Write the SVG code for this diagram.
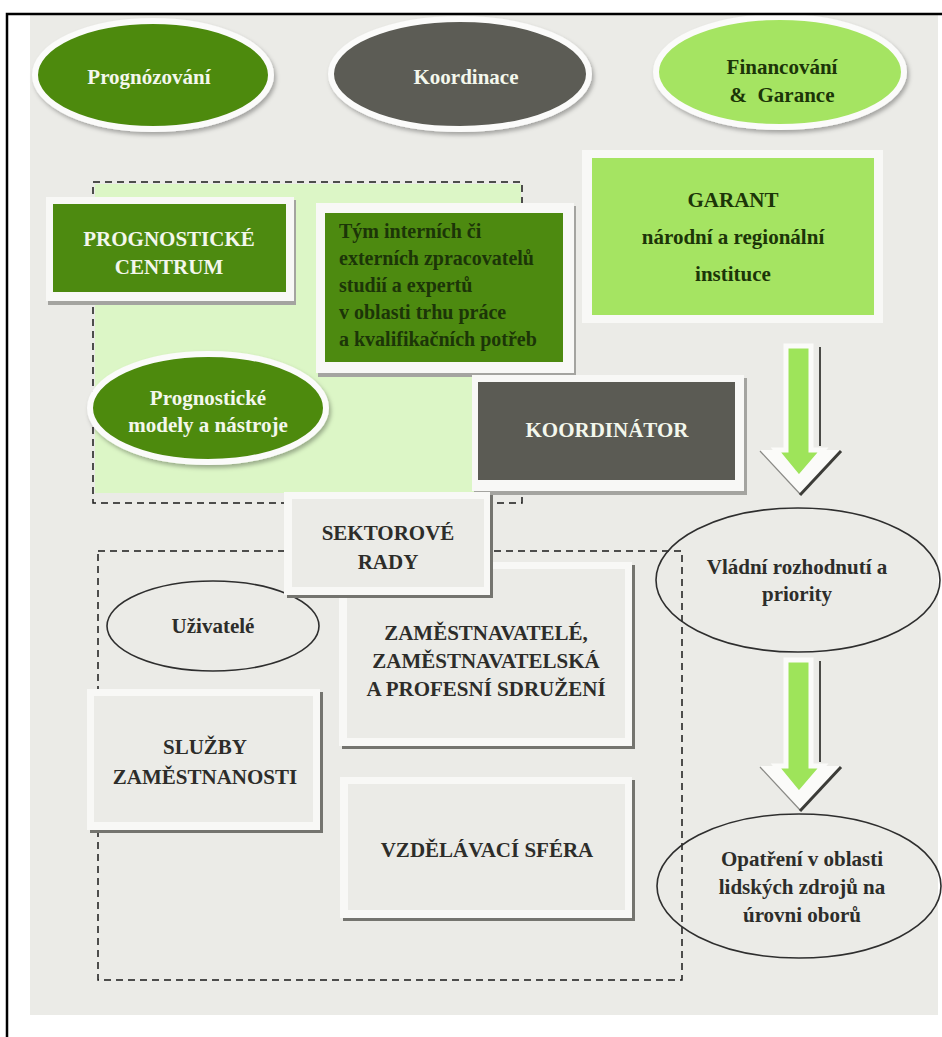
<svg xmlns="http://www.w3.org/2000/svg" width="942" height="1037" viewBox="0 0 942 1037">
<defs>
<style>
text { font-family: "Liberation Serif", "Times New Roman", serif; font-weight: bold; text-anchor: middle; font-size: 21px; }
.w { fill: #f3f7ec; }
.dk { fill: #2d2d2a; }
.dg { fill: #1c3508; }
.st { text-anchor: start; font-size: 20px; }
.outer { fill: #f8f8f6; }
.shadow { fill: #a4a4a0; }
.dshadow { fill: #74746f; }
.green { fill: #4d8a10; }
.gray { fill: #5b5b54; }
.light { fill: #a5e462; }
.boxg { fill: #ebebe7; }
.dash { fill: none; stroke: #1a1a1a; stroke-width: 1.5; stroke-dasharray: 7 5; }
.oval { fill: none; stroke: #2e2e2e; stroke-width: 1.6; }
.glow { stroke: #fbfbfa; stroke-width: 6; }
.arrow { fill: #9ee45a; stroke: #fbfbf9; stroke-width: 5; stroke-linejoin: miter; }
.vhead { fill: #fbfbf9; }
</style>
<filter id="sh" x="-10%" y="-10%" width="125%" height="135%">
<feDropShadow dx="2" dy="3" stdDeviation="2" flood-color="#000" flood-opacity="0.3"/>
</filter>
</defs>

<rect x="0" y="0" width="942" height="1037" fill="#ffffff"/>
<rect x="30" y="15" width="908" height="1000" fill="#ebebe7"/>

<g id="group-prognosis">
<rect x="95" y="184" width="426" height="309" fill="#dcf6c6"/>
<rect class="dash" x="93" y="182" width="429" height="321"/>
</g>
<g id="group-users">
<rect class="dash" x="98" y="551" width="584" height="429"/>
</g>

<g id="node-prognozovani">
<ellipse class="green glow" cx="153" cy="75" rx="118" ry="54" filter="url(#sh)"/>
<text class="w" x="149" y="84" font-size="22">Prognózování</text>
</g>
<g id="node-koordinace">
<ellipse class="gray glow" cx="460" cy="74" rx="129" ry="55" filter="url(#sh)"/>
<text class="w" x="466" y="84" font-size="22">Koordinace</text>
</g>
<g id="node-financovani">
<ellipse class="light glow" cx="780" cy="72" rx="124" ry="55" filter="url(#sh)"/>
<text class="dg" x="782" y="74" font-size="22">Financování</text>
<text class="dg" x="782" y="102" font-size="22" xml:space="preserve">&amp;  Garance</text>
</g>

<g id="node-prognosticke-centrum">
<rect class="shadow" x="48" y="200" width="248" height="105"/>
<rect class="outer" x="46" y="197" width="248" height="104"/>
<rect class="green" x="53" y="204" width="233" height="88"/>
<text class="w" x="169" y="246">PROGNOSTICKÉ</text>
<text class="w" x="169" y="274">CENTRUM</text>
</g>

<g id="node-tym">
<rect class="shadow" x="318" y="206" width="258" height="171"/>
<rect class="outer" x="316" y="203" width="258" height="170"/>
<rect class="green" x="325" y="213" width="238" height="149"/>
<text class="dg st" x="339" y="238">Tým interních či</text>
<text class="dg st" x="339" y="265">externích zpracovatelů</text>
<text class="dg st" x="339" y="292">studií a expertů</text>
<text class="dg st" x="339" y="319">v oblasti trhu práce</text>
<text class="dg st" x="339" y="346">a kvalifikačních potřeb</text>
</g>

<g id="node-modely">
<ellipse class="green glow" cx="208" cy="408" rx="118" ry="54" filter="url(#sh)"/>
<text class="w" x="208" y="405" font-size="20">Prognostické</text>
<text class="w" x="208" y="432" font-size="20">modely a nástroje</text>
</g>

<g id="node-garant">
<rect class="outer" x="582" y="150" width="301" height="173"/>
<rect class="light" x="592" y="158" width="282" height="157"/>
<text class="dg" x="733" y="207" font-size="26">GARANT</text>
<text class="dg" x="733" y="244" font-size="26">národní a regionální</text>
<text class="dg" x="733" y="281" font-size="26">instituce</text>
</g>

<g id="node-koordinator">
<rect class="shadow" x="474" y="378" width="273" height="117"/>
<rect class="outer" x="472" y="375" width="272" height="116"/>
<rect class="gray" x="478" y="382" width="257" height="98"/>
<text class="w" x="607" y="437">KOORDINÁTOR</text>
</g>

<g id="node-uzivatele">
<ellipse class="oval" cx="213" cy="626" rx="106" ry="45"/>
<text class="dk" x="213" y="633">Uživatelé</text>
</g>

<g id="node-zamestnavatele">
<rect class="dshadow" x="342" y="565" width="293" height="184"/>
<rect class="outer" x="339" y="562" width="293" height="184"/>
<rect class="boxg" x="347" y="569" width="278" height="169"/>
<text class="dk" x="486" y="640">ZAMĚSTNAVATELÉ,</text>
<text class="dk" x="486" y="668">ZAMĚSTNAVATELSKÁ</text>
<text class="dk" x="486" y="696">A PROFESNÍ SDRUŽENÍ</text>
</g>

<g id="node-sektorove-rady">
<rect class="dshadow" x="287" y="495" width="206" height="103"/>
<rect class="outer" x="284" y="492" width="206" height="103"/>
<rect class="boxg" x="292" y="499" width="192" height="88"/>
<text class="dk" x="388" y="540">SEKTOROVÉ</text>
<text class="dk" x="388" y="569">RADY</text>
</g>

<g id="node-sluzby">
<rect class="dshadow" x="90" y="692" width="233" height="141"/>
<rect class="outer" x="87" y="689" width="233" height="141"/>
<rect class="boxg" x="94" y="696" width="219" height="126"/>
<text class="dk" x="205" y="754">SLUŽBY</text>
<text class="dk" x="205" y="784">ZAMĚSTNANOSTI</text>
</g>

<g id="node-vzdelavaci">
<rect class="dshadow" x="343" y="780" width="292" height="141"/>
<rect class="outer" x="340" y="777" width="292" height="141"/>
<rect class="boxg" x="348" y="784" width="277" height="126"/>
<text class="dk" x="487" y="857">VZDĚLÁVACÍ SFÉRA</text>
</g>

<g id="node-vladni">
<ellipse class="oval" cx="798" cy="580" rx="142" ry="72"/>
<text class="dk" x="797" y="574">Vládní rozhodnutí a</text>
<text class="dk" x="797" y="601">priority</text>
</g>

<g id="node-opatreni">
<ellipse class="oval" cx="799" cy="886" rx="142" ry="72"/>
<text class="dk" x="802" y="866">Opatření v oblasti</text>
<text class="dk" x="802" y="894">lidských zdrojů na</text>
<text class="dk" x="802" y="922">úrovni oborů</text>
</g>

<g id="connectors">
<g id="arrow-garant-vladni">
<polygon class="vhead" points="760,450 840,450 800,494"/>
<line x1="760" y1="451" x2="800" y2="494" stroke="#8a8a86" stroke-width="1.2"/>
<line x1="841" y1="451" x2="800" y2="495" stroke="#3c3c38" stroke-width="3"/>
<line x1="820" y1="347" x2="820" y2="446" stroke="#4a4a46" stroke-width="2"/>
<polygon class="arrow" points="786,346 811,346 811,450 823,450 799,478 776,450 786,450"/>
</g>
<g id="arrow-vladni-opatreni">
<polygon class="vhead" points="760,766 840,766 800,810"/>
<line x1="760" y1="767" x2="800" y2="810" stroke="#8a8a86" stroke-width="1.2"/>
<line x1="841" y1="767" x2="800" y2="811" stroke="#3c3c38" stroke-width="3"/>
<line x1="820" y1="661" x2="820" y2="762" stroke="#4a4a46" stroke-width="2"/>
<polygon class="arrow" points="786,660 811,660 811,766 823,766 799,794 776,766 786,766"/>
</g>
</g>

<path d="M7,1037 V14 H942" fill="none" stroke="#000000" stroke-width="2.5"/>
</svg>
